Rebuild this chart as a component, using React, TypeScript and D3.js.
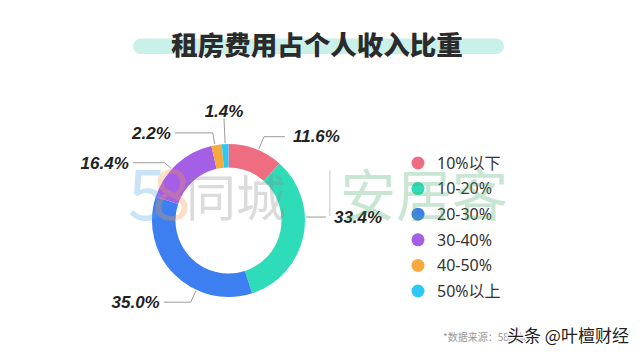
import * as d3 from "d3";
import { useEffect, useRef } from "react";

const categories = ["10%以下", "10-20%", "20-30%", "30-40%", "40-50%", "50%以上"];
const shares = [11.6, 33.4, 35.0, 16.4, 2.2, 1.4];
const labels = ["11.6%", "33.4%", "35.0%", "16.4%", "2.2%", "1.4%"];
const colors = ["#ee6d80", "#2fdcb9", "#3d7ff0", "#a55ee6", "#f6a93e", "#2cc9f6"];

// leader line layout: where on the slice the line starts (t), elbow radius, horizontal run
const leader = [
    { t: 0.55, r2: 91, run: 21 },
    { t: 0.38, r2: 77, run: 20 },
    { t: 0.34, r2: 90, run: -27 },
    { t: 0.41, r2: 86, run: -32 },
    { t: 0.35, r2: 89, run: -38 },
    { t: 0.5, r2: 102, run: 0 },
];

export default function App() {
    const ref = useRef<SVGSVGElement | null>(null);

    useEffect(() => {
        if (!ref.current) return;
        const width = 640;
        const height = 355;
        const cx = 228.5;
        const cy = 220.5;
        const outer = 76.5;
        const inner = 53;

        const svg = d3.select(ref.current);
        svg.selectAll("*").remove();

        svg.append("rect").attr("width", width).attr("height", height).attr("fill", "#fff");

        // title with mint bar behind
        svg.append("rect")
            .attr("x", 133).attr("y", 38.5)
            .attr("width", 371).attr("height", 15.5)
            .attr("rx", 7.75)
            .attr("fill", "#c9f1ea");
        svg.append("text")
            .attr("x", 317).attr("y", 55)
            .attr("text-anchor", "middle")
            .attr("font-family", "'Noto Sans CJK SC', sans-serif")
            .attr("font-weight", 900)
            .attr("font-size", 26.5)
            .attr("fill", "#2b2b2b")
            .text("租房费用占个人收入比重");

        const pie = d3.pie<number>().value((d) => d).sort(null);
        const arcs = pie(shares);
        const arc = d3.arc<d3.PieArcDatum<number>>().innerRadius(inner).outerRadius(outer);

        const g = svg.append("g").attr("transform", `translate(${cx},${cy})`);
        g.selectAll("path")
            .data(arcs)
            .join("path")
            .attr("d", arc)
            .attr("fill", (_, i) => colors[i]);

        // leader lines + labels
        const pt = (a: number, r: number) => [r * Math.sin(a), -r * Math.cos(a)];
        arcs.forEach((d, i) => {
            const L = leader[i];
            const a = d.startAngle + (d.endAngle - d.startAngle) * L.t;
            const p0 = pt(a, outer + 1);
            const p1 = L.r2 > outer + 1 ? pt(a, L.r2) : p0;
            const p2 = [p1[0] + L.run, p1[1]];
            g.append("path")
                .attr("d", d3.line()([p0, p1, p2] as [number, number][]))
                .attr("fill", "none")
                .attr("stroke", "#9a9a9a")
                .attr("stroke-width", 1);
            const lx = L.run === 0 ? p2[0] : p2[0] + (L.run > 0 ? 8 : -4);
            const ly = L.run === 0 ? p2[1] - 8 : p2[1] + (i === 0 ? -1 : 0);
            g.append("text")
                .attr("x", lx)
                .attr("y", ly)
                .attr("dy", "0.36em")
                .attr("text-anchor", L.run === 0 ? "middle" : L.run > 0 ? "start" : "end")
                .attr("font-family", "'Liberation Sans', Arial, sans-serif")
                .attr("font-weight", "bold")
                .attr("font-style", "italic")
                .attr("font-size", 17)
                .attr("fill", "#222")
                .text(labels[i]);
        });

        // legend
        const ly = d3.scalePoint<string>().domain(categories).range([163, 291]);
        const legend = svg.append("g");
        categories.forEach((c, i) => {
            legend.append("circle")
                .attr("cx", 418).attr("cy", ly(c)!)
                .attr("r", 6.5)
                .attr("fill", colors[i]);
            legend.append("text")
                .attr("x", 437).attr("y", ly(c)!)
                .attr("dy", "0.36em")
                .attr("font-family", "'Noto Sans', 'Noto Sans CJK SC', sans-serif")
                .attr("font-size", 16)
                .attr("fill", "#333")
                .text(c);
        });

        // watermark
        const wm = svg.append("g").attr("font-family", "'Noto Sans CJK SC', sans-serif").attr("opacity", 0.3);
        wm.append("text").attr("x", 128).attr("y", 220).attr("font-size", 70).attr("fill", "#4fa6e6").text("5");
        wm.append("text").attr("x", 152).attr("y", 220).attr("font-size", 70).attr("fill", "#f59a4a").text("8");
        wm.append("text").attr("x", 186).attr("y", 216).attr("font-size", 50).attr("fill", "#8c8c8c").text("同城");
        wm.append("rect").attr("x", 329).attr("y", 170).attr("width", 1.5).attr("height", 46).attr("fill", "#8c8c8c");
        wm.append("text").attr("x", 340).attr("y", 216).attr("font-size", 56).attr("fill", "#4cad6a").text("安居客");

        // footer
        svg.append("text")
            .attr("x", 443).attr("y", 341)
            .attr("font-family", "'Noto Sans CJK SC', sans-serif")
            .attr("font-size", 10)
            .attr("fill", "#999")
            .text("*数据来源：58同城");
        svg.append("text")
            .attr("x", 507).attr("y", 342)
            .attr("font-family", "'Noto Sans CJK SC', sans-serif")
            .attr("font-size", 17)
            .attr("fill", "#222")
            .attr("stroke", "#fff")
            .attr("stroke-width", 2.5)
            .attr("paint-order", "stroke")
            .text("头条 @叶檀财经");
    }, []);

    return (
        <div style={{ position: "absolute", left: 0, top: 0, width: 640, height: 355 }}>
            <svg ref={ref} width={640} height={355}></svg>
        </div>
    );
}
